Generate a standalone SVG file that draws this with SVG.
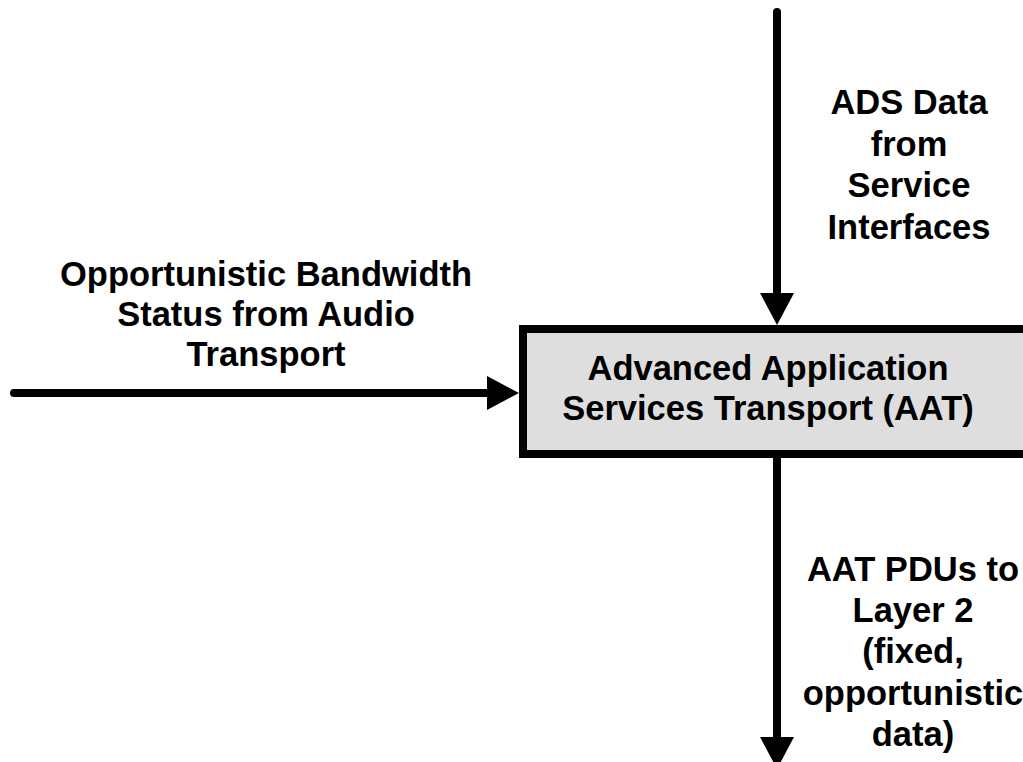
<svg xmlns="http://www.w3.org/2000/svg" width="1023" height="762" viewBox="0 0 1023 762">
  <style>
    .lbl { font-family: "Liberation Sans", Arial, sans-serif; font-weight: bold; font-size: 34.5px; fill: #000; text-anchor: middle; }
    .box { fill: #dedede; stroke: #000; stroke-width: 8; }
    .conn { stroke: #000; stroke-width: 8; stroke-linecap: round; fill: none; }
  </style>
  <defs>
    <marker id="arrow" markerUnits="userSpaceOnUse" markerWidth="32" markerHeight="34" refX="0" refY="17" orient="auto" viewBox="0 0 32 34">
      <path d="M0,0 L32,17 L0,34 Z" fill="#000"/>
    </marker>
  </defs>
  <rect width="1023" height="762" fill="#fff"/>

  <g id="node-aat">
    <rect class="box" x="523" y="329" width="520" height="125"/>
    <text class="lbl" x="768" y="380">Advanced Application</text>
    <text class="lbl" x="768" y="420">Services Transport (AAT)</text>
  </g>

  <g id="connectors">
    <line class="conn" x1="777" y1="12" x2="777" y2="293" marker-end="url(#arrow)"/>
    <line class="conn" x1="14" y1="393" x2="487" y2="393" marker-end="url(#arrow)"/>
    <line class="conn" x1="777" y1="458" x2="777" y2="737" stroke-linecap="butt" marker-end="url(#arrow)"/>
  </g>

  <g id="label-ads">
    <text class="lbl" x="909" y="114">ADS Data</text>
    <text class="lbl" x="909" y="156">from</text>
    <text class="lbl" x="909" y="197">Service</text>
    <text class="lbl" x="909" y="239">Interfaces</text>
  </g>

  <g id="label-bandwidth">
    <text class="lbl" x="266" y="286">Opportunistic Bandwidth</text>
    <text class="lbl" x="266" y="326">Status from Audio</text>
    <text class="lbl" x="266" y="366">Transport</text>
  </g>

  <g id="label-pdus">
    <text class="lbl" x="913" y="581">AAT PDUs to</text>
    <text class="lbl" x="913" y="622">Layer 2</text>
    <text class="lbl" x="913" y="663">(fixed,</text>
    <text class="lbl" x="913" y="705">opportunistic</text>
    <text class="lbl" x="913" y="746">data)</text>
  </g>
</svg>
